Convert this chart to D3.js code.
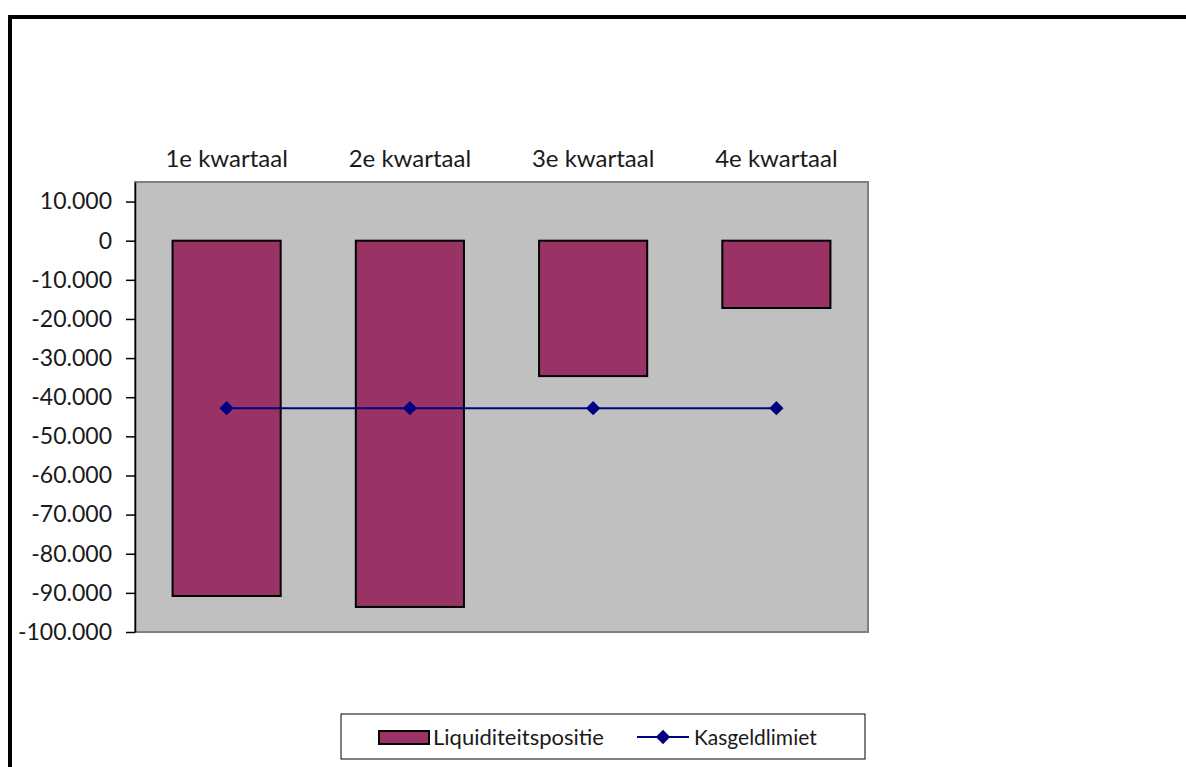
<!DOCTYPE html>
<html>
<head>
<meta charset="utf-8">
<script src="https://cdn.jsdelivr.net/npm/d3@7"></script>
<style>
  body { margin: 0; background: #fff; }
  text { font-family: Lato, "Open Sans", sans-serif; fill: #1a1a1a; }
</style>
</head>
<body>
<div id="chart"></div>
<script>
// data
const kwartalen = ["1e kwartaal", "2e kwartaal", "3e kwartaal", "4e kwartaal"]
const liquiditeit = [-90800, -93600, -34600, -17200]
const kasgeldlimiet = [-42800, -42800, -42800, -42800]
const yTicks = [10000, 0, -10000, -20000, -30000, -40000, -50000, -60000, -70000, -80000, -90000, -100000]

const width = 1186, height = 767
const plot = { left: 135, right: 868, top: 182, bottom: 632 }

const svg = d3.select("#chart").append("svg")
    .attr("width", width)
    .attr("height", height)

// outer frame (only top and left visible)
svg.append("path")
    .attr("d", `M10,${height} L10,17 L${width},17`)
    .attr("fill", "none")
    .attr("stroke", "#000")
    .attr("stroke-width", 4)

const x = d3.scaleBand()
    .domain(kwartalen)
    .range([plot.left, plot.right])
    .paddingInner(0.41)
    .paddingOuter(0.205)

const y = d3.scaleLinear()
    .domain([-100000, 15000])
    .range([plot.bottom, plot.top])

// plot area
svg.append("rect")
    .attr("x", plot.left)
    .attr("y", plot.top)
    .attr("width", plot.right - plot.left)
    .attr("height", plot.bottom - plot.top)
    .attr("fill", "#c0c0c0")
    .attr("stroke", "#808080")
    .attr("stroke-width", 2)

// y axis, dutch thousands separator and plain hyphen
const fmt = d => d3.format(",")(d).replace(/,/g, ".").replace("\u2212", "-")
const yAxis = svg.append("g")
    .attr("transform", `translate(${plot.left},0)`)
    .call(d3.axisLeft(y).tickValues(yTicks).tickFormat(fmt)
        .tickSizeInner(9).tickSizeOuter(0).tickPadding(14))
yAxis.select(".domain").attr("stroke", "#000").attr("stroke-width", 1.5)
yAxis.selectAll(".tick line").attr("stroke", "#000").attr("stroke-width", 1.5)
yAxis.selectAll(".tick text")
    .style("font-size", "23px")
    .attr("fill", "#1a1a1a")

// category labels above the plot
svg.append("g").selectAll("text")
    .data(kwartalen)
    .join("text")
    .attr("x", d => x(d) + x.bandwidth() / 2)
    .attr("y", 167)
    .attr("text-anchor", "middle")
    .style("font-size", "24px")
    .text(d => d)

// bars
svg.append("g").selectAll("rect")
    .data(liquiditeit)
    .join("rect")
    .attr("x", (d, i) => x(kwartalen[i]))
    .attr("y", y(0))
    .attr("width", x.bandwidth())
    .attr("height", d => y(d) - y(0))
    .attr("fill", "#993366")
    .attr("stroke", "#000")
    .attr("stroke-width", 2)

// kasgeldlimiet line
const cx = i => x(kwartalen[i]) + x.bandwidth() / 2
const line = d3.line()
    .x((d, i) => cx(i))
    .y(d => y(d))

svg.append("path")
    .datum(kasgeldlimiet)
    .attr("d", line)
    .attr("fill", "none")
    .attr("stroke", "#000080")
    .attr("stroke-width", 2)

const diamond = d3.symbol().type(d3.symbolDiamond2).size(130)
svg.append("g").selectAll("path")
    .data(kasgeldlimiet)
    .join("path")
    .attr("d", diamond)
    .attr("transform", (d, i) => `translate(${cx(i)},${y(d)})`)
    .attr("fill", "#000080")

// legend
const legend = svg.append("g")
legend.append("rect")
    .attr("x", 341)
    .attr("y", 714)
    .attr("width", 524)
    .attr("height", 45)
    .attr("fill", "#fff")
    .attr("stroke", "#000")
    .attr("stroke-width", 1)

legend.append("rect")
    .attr("x", 379)
    .attr("y", 731)
    .attr("width", 50)
    .attr("height", 13)
    .attr("fill", "#993366")
    .attr("stroke", "#000")
    .attr("stroke-width", 2)
legend.append("text")
    .attr("x", 433)
    .attr("y", 745)
    .style("font-size", "22px")
    .text("Liquiditeitspositie")

legend.append("line")
    .attr("x1", 637).attr("x2", 689)
    .attr("y1", 737).attr("y2", 737)
    .attr("stroke", "#000080")
    .attr("stroke-width", 2)
legend.append("path")
    .attr("d", diamond)
    .attr("transform", "translate(663,737)")
    .attr("fill", "#000080")
legend.append("text")
    .attr("x", 694)
    .attr("y", 745)
    .style("font-size", "21px")
    .text("Kasgeldlimiet")
</script>
</body>
</html>
